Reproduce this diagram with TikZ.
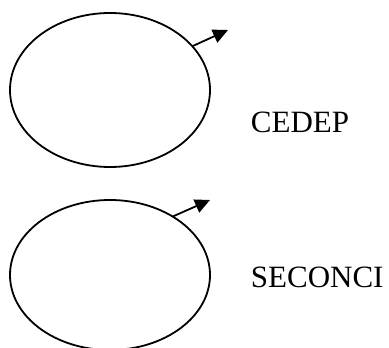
\documentclass[tikz,border=0pt]{standalone}
\usepackage{fontspec}
\setmainfont{Liberation Serif}
\usetikzlibrary{arrows.meta}
\usetikzlibrary{shapes.geometric}
\tikzstyle{base}=[x=0.5pt, y=-0.5pt, line width=0.9pt]
\tikzstyle{ring}=[draw, ellipse, inner sep=0pt, outer sep=0pt, minimum width=100pt]
\tikzstyle{tag}=[anchor=base west, inner sep=0pt, font=\fontsize{15.5}{18}\selectfont]
\tikzstyle{flow}=[-{Triangle[length=7.5pt,width=7pt]}]

\begin{document}
\begin{tikzpicture}[base]
    \path [use as bounding box] (0,0) rectangle (389,347);
        \node [ring, minimum height=77pt] (cedepring) at (110,90) {};
        \node [ring, minimum height=75pt] (seconciring) at (110,275) {};
        \coordinate (cedeptip) at (228,30);
        \coordinate (seconcitip) at (210,200);
        \draw [flow] (cedepring.28) -- (cedeptip);
        \draw [flow] (seconciring.43) -- (seconcitip);
        \node [tag] (cedep) at (250,133) {CEDEP};
        \node [tag] (seconci) at (250,287) {SECONCI};
    \end{tikzpicture}
\end{document}
